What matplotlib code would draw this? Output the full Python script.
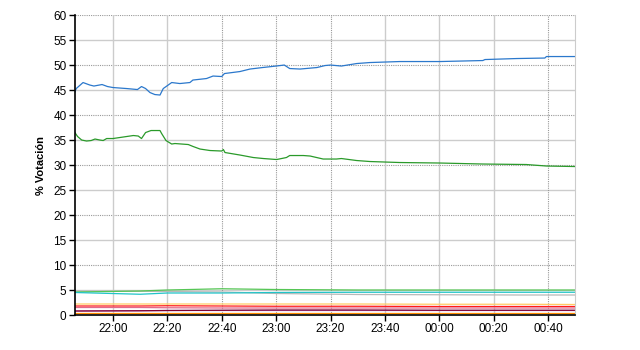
import numpy as np
import matplotlib
matplotlib.use("Agg")
import matplotlib.pyplot as plt

plt.rcParams["font.family"] = ["Liberation Sans", "DejaVu Sans"]


def to_min(t):
    # minutes after 21:00, times past midnight wrap forward
    h, m = t.split(":")
    h = int(h)
    if h < 12:
        h += 24
    return (h - 21) * 60 + float(m)


# main series
blue_t = ["21:46", "21:46.5", "21:49", "21:51.5", "21:53", "21:56", "21:58", "22:00", "22:05",
          "22:09", "22:10.5", "22:12", "22:13.6", "22:15.4", "22:17.3", "22:18.5", "22:21.6",
          "22:24.6", "22:28.3", "22:29.4", "22:34.4", "22:36.8", "22:40", "22:41", "22:46.7",
          "22:50.4", "22:55", "23:00", "23:03", "23:05", "23:08.8", "23:15", "23:18", "23:20",
          "23:24", "23:29.6", "23:34.5", "23:45.5", "00:00.2", "00:16", "00:16.8", "00:28.4",
          "00:38.8", "00:39.4", "00:49.8"]
blue_v = [44.6, 45.3, 46.5, 46.0, 45.8, 46.1, 45.7, 45.5, 45.3,
          45.1, 45.7, 45.3, 44.5, 44.1, 44.0, 45.3, 46.5,
          46.3, 46.5, 47.0, 47.3, 47.8, 47.7, 48.3, 48.7,
          49.2, 49.5, 49.8, 50.0, 49.3, 49.2, 49.5, 49.9, 50.0,
          49.8, 50.3, 50.5, 50.7, 50.7, 50.9, 51.1, 51.3,
          51.4, 51.7, 51.7]

green_t = ["21:46", "21:47", "21:48.5", "21:50.3", "21:52", "21:53.4", "21:55.2", "21:56.4",
           "21:57.7", "22:00", "22:07.5", "22:09.3", "22:10.5", "22:12", "22:14", "22:17.3",
           "22:17.9", "22:19.5", "22:21.6", "22:22.8", "22:27.7", "22:29.5", "22:32", "22:35.7",
           "22:40", "22:40.6", "22:41.2", "22:46.7", "22:51.6", "22:55.3", "23:00.2", "23:03.8",
           "23:05", "23:10", "23:12.5", "23:17.3", "23:22.2", "23:24", "23:29.6", "23:34.5",
           "23:45.5", "00:00.2", "00:16", "00:32", "00:39.4", "00:49.8"]
green_v = [36.5, 35.7, 35.0, 34.8, 34.9, 35.2, 35.0, 34.9,
           35.3, 35.3, 35.9, 35.8, 35.3, 36.5, 36.9, 36.9,
           36.3, 34.9, 34.2, 34.3, 34.1, 33.7, 33.2, 32.9,
           32.8, 33.1, 32.5, 32.0, 31.5, 31.3, 31.1, 31.5,
           31.9, 31.9, 31.8, 31.2, 31.2, 31.3, 30.9, 30.7,
           30.5, 30.4, 30.2, 30.1, 29.8, 29.7]

# minor parties
small_t = ["21:46", "22:10", "22:20", "22:40", "23:00", "23:30", "00:00", "00:30", "00:49.8"]
small = {
    "#b8b8b8": [4.8, 4.75, 4.7, 4.6, 4.3, 4.1, 4.05, 4.0, 4.0],
    "#55c655": [4.6, 4.8, 5.0, 5.25, 5.1, 5.0, 5.0, 5.0, 5.0],
    "#20c4c8": [4.5, 4.15, 4.4, 4.4, 4.5, 4.55, 4.55, 4.55, 4.55],
    "#ffcc66": [2.2, 2.2, 2.2, 2.2, 2.2, 2.2, 2.15, 2.15, 2.1],
    "#ff1a1a": [1.8, 1.8, 1.85, 1.8, 1.75, 1.75, 1.7, 1.7, 1.7],
    "#e06a8a": [1.5, 1.5, 1.45, 1.4, 1.4, 1.4, 1.4, 1.4, 1.4],
    "#b070c0": [0.8, 0.85, 0.9, 0.9, 0.9, 0.9, 0.9, 0.9, 0.9],
    "#800030": [0.8, 0.85, 0.9, 0.95, 1.0, 1.0, 0.95, 0.95, 0.95],
    "#ff8c00": [0.5, 0.5, 0.5, 0.5, 0.5, 0.5, 0.5, 0.5, 0.5],
}

tick_labels = ["22:00", "22:20", "22:40", "23:00", "23:20", "23:40", "00:00", "00:20", "00:40"]
dotted_x = ["22:40", "23:00", "23:20", "00:40"]

fig = plt.figure(figsize=(6.4, 3.5), dpi=100)
ax = fig.add_axes([0.117, 0.1, 0.781, 0.857])

# grid
for y in range(0, 61, 5):
    if y % 10 == 0:
        ax.axhline(y, color="#999999", lw=0.8, ls=(0, (1, 1)), zorder=0)
    else:
        ax.axhline(y, color="#cccccc", lw=1.0, zorder=0)
for lab in tick_labels:
    if lab in dotted_x:
        ax.axvline(to_min(lab), color="#999999", lw=0.8, ls=(0, (1, 1)), zorder=0)
    else:
        ax.axvline(to_min(lab), color="#cccccc", lw=1.0, zorder=0)

st = [to_min(t) for t in small_t]
for c, v in small.items():
    ax.plot(st, v, color=c, lw=0.9)
ax.plot([to_min(t) for t in green_t], green_v, color="#2a9a2a", lw=0.9)
ax.plot([to_min(t) for t in blue_t], blue_v, color="#2b78cc", lw=0.9)

ax.set_xlim(to_min("21:46"), to_min("00:49.8"))
ax.set_ylim(0, 60)
ax.set_yticks(range(0, 61, 5))
ax.set_xticks([to_min(t) for t in tick_labels])
ax.set_xticklabels(tick_labels)
ax.tick_params(labelsize=8.5, length=4, width=1, color="black", pad=2)
ax.set_ylabel("% Votación", fontsize=8, fontweight="bold", labelpad=5)

ax.spines["top"].set_visible(False)
ax.spines["right"].set_color("#cccccc")
ax.spines["left"].set_color("black")
ax.spines["bottom"].set_color("black")
ax.spines["left"].set_linewidth(1.2)
ax.spines["bottom"].set_linewidth(1.2)

fig.savefig("out.png", dpi=100)
